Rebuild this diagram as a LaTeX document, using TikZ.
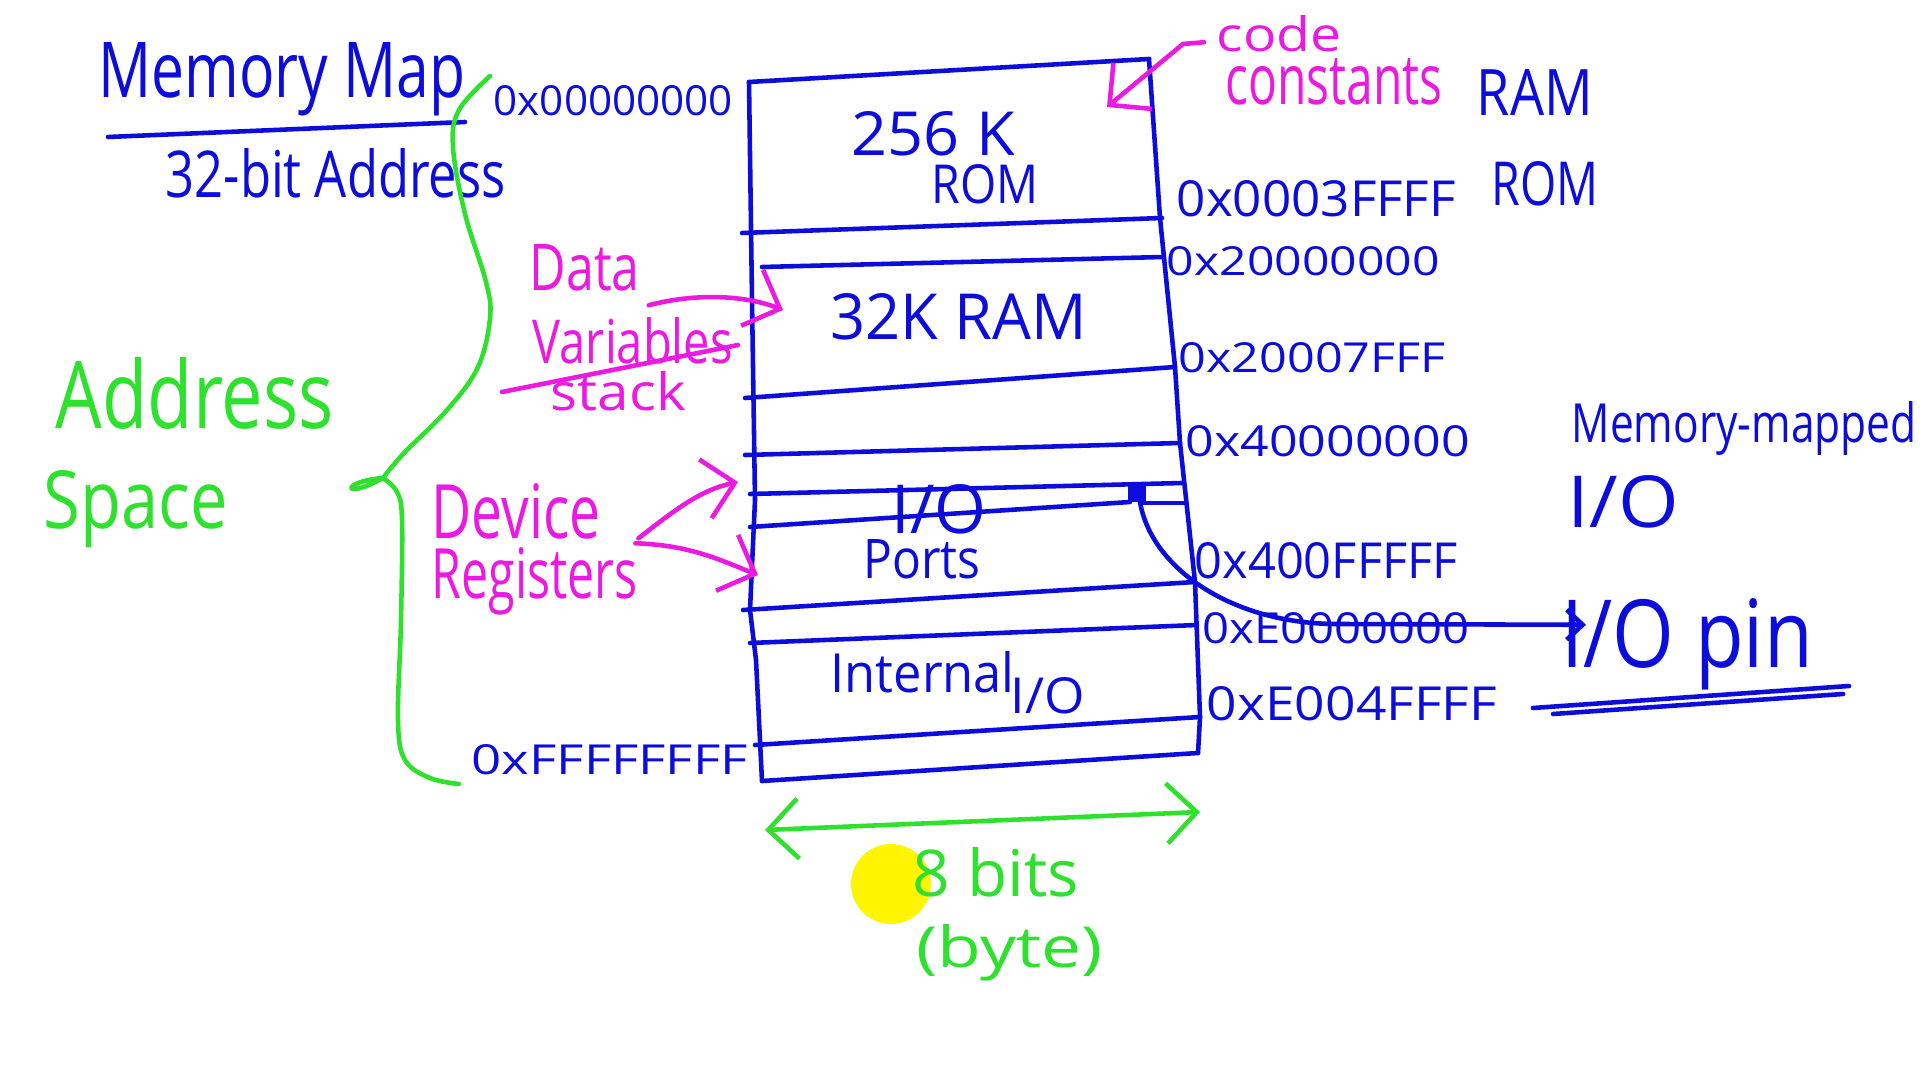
\documentclass[tikz,border=0pt]{standalone}
\usepackage{fontspec}
\setmainfont{Open Sans}
\usepackage{graphicx}
\usetikzlibrary{arrows.meta}
\definecolor{inkblue}{RGB}{12,12,220}
\definecolor{inkmag}{RGB}{235,25,225}
\definecolor{inkgreen}{RGB}{45,225,45}
\definecolor{hilite}{RGB}{255,245,0}
\newcommand\hw[3]{\resizebox{#1cm}{#2cm}{#3}}
\tikzset{
  ink/.style={line width=1.3pt, line cap=round, line join=round},
  bl/.style={ink, draw=inkblue},
  mg/.style={ink, draw=inkmag},
  gr/.style={ink, draw=inkgreen},
  txt/.style={inner sep=0pt, anchor=base west},
  tb/.style={txt, text=inkblue},
  tm/.style={txt, text=inkmag},
  tg/.style={txt, text=inkgreen},
  barb/.style={-{Straight Barb[length=3mm,width=6mm]}},
  smallbarb/.style={-{Straight Barb[length=1.6mm,width=3mm]}},
  dbarb/.style={{Straight Barb[length=3mm,width=6mm]}-{Straight Barb[length=3mm,width=6mm]}},
}
\begin{document}
\begin{tikzpicture}
\useasboundingbox[fill=white] (0,0) rectangle (19.2,-10.8);

% highlight dot (behind text)
\fill[hilite] (8.91,-8.84) circle (0.40);

% ---------- memory map box ----------
\draw[bl] (7.49,-0.82) -- (11.49,-0.59);
\draw[bl] (7.49,-0.82) -- (7.52,-3.0) -- (7.55,-5.0) -- (7.50,-6.1) -- (7.56,-6.6) -- (7.62,-7.81);
\draw[bl] (11.49,-0.59) -- (11.60,-2.18) -- (11.75,-3.67) -- (11.80,-4.43) -- (11.95,-5.82) -- (12.00,-7.17) -- (11.98,-7.53);
\draw[bl] (7.42,-2.33) -- (11.62,-2.18);
\draw[bl] (7.62,-2.67) -- (11.63,-2.57);
\draw[bl] (7.45,-3.98) -- (11.75,-3.67);
\draw[bl] (7.45,-4.55) -- (11.80,-4.43);
\draw[bl] (7.50,-4.94) -- (11.82,-4.83);
\draw[bl] (7.50,-5.27) -- (11.30,-5.02);
\draw[bl] (11.40,-5.03) -- (11.84,-5.03);
\draw[bl] (7.43,-6.10) -- (11.95,-5.82);
\draw[bl] (7.50,-6.43) -- (11.97,-6.25);
\draw[bl] (7.55,-7.45) -- (12.00,-7.17);
\draw[bl] (7.62,-7.81) -- (11.98,-7.53);
\fill[inkblue] (11.28,-4.86) rectangle (11.46,-5.02);

% ---------- texts (base west at left/baseline) ----------
\node[tb] (title) at (0.98,-0.98) {\hw{3.67}{0.55}{Memory Map}};
\draw[bl] (1.08,-1.37) -- (4.65,-1.22);
\node[tb] (addr32) at (1.65,-1.98) {\hw{3.40}{0.49}{32-bit Address}};
\node[tb] (h0) at (4.93,-1.16) {\hw{2.39}{0.30}{0x00000000}};
\node[tb] (rom256) at (8.51,-1.56) {\hw{1.63}{0.44}{256 K}};
\node[tb] (romin) at (9.31,-2.04) {\hw{1.07}{0.39}{ROM}};
\node[tm] (code) at (12.16,-0.52) {\hw{1.25}{0.36}{code}};
\node[tm] (const) at (12.25,-1.05) {\hw{2.17}{0.46}{constants}};
\node[tb] (ramR) at (14.76,-1.16) {\hw{1.16}{0.46}{RAM}};
\node[tb] (h3ffff) at (11.76,-2.17) {\hw{2.79}{0.36}{0x0003FFFF}};
\node[tb] (romR) at (14.91,-2.06) {\hw{1.07}{0.44}{ROM}};
\node[tm] (data) at (5.29,-2.91) {\hw{1.10}{0.46}{Data}};
\node[tm] (vars) at (5.32,-3.64) {\hw{2.00}{0.46}{Variables}};
\node[tm] (stack) at (5.50,-4.10) {\hw{1.35}{0.39}{stack}};
\draw[mg] (5.02,-3.92) -- (7.38,-3.45);
\node[tb] (ram32) at (8.30,-3.40) {\hw{2.56}{0.46}{32K RAM}};
\node[tb] (h2000) at (11.66,-2.76) {\hw{2.73}{0.29}{0x20000000}};
\node[tb] (h2fff) at (11.78,-3.73) {\hw{2.67}{0.30}{0x20007FFF}};
\node[tb] (h4000) at (11.85,-4.57) {\hw{2.84}{0.31}{0x40000000}};
\node[tb] (mmio) at (15.71,-4.43) {\hw{3.45}{0.41}{Memory-mapped}};
\node[tb] (ioR) at (15.67,-5.27) {\hw{1.11}{0.52}{I/O}};
\node[tb] (h400f) at (11.94,-5.78) {\hw{2.63}{0.36}{0x400FFFFF}};
\node[tb] (hE000) at (12.02,-6.43) {\hw{2.67}{0.31}{0xE0000000}};
\node[tb] (hE004) at (12.06,-7.20) {\hw{2.90}{0.34}{0xE004FFFF}};
\node[tb] (iopin) at (15.61,-6.67) {\hw{2.51}{0.69}{I/O pin}};
\draw[bl] (15.33,-7.08) -- (18.49,-6.86);
\draw[bl] (15.53,-7.14) -- (18.43,-6.94);
\node[tb] (ioIn) at (8.91,-5.33) {\hw{0.95}{0.49}{I/O}};
\node[tb] (ports) at (8.63,-5.78) {\hw{1.17}{0.39}{Ports}};
\node[tm] (device) at (4.31,-5.39) {\hw{1.69}{0.55}{Device}};
\node[tm] (regs) at (4.31,-5.98) {\hw{2.06}{0.51}{Registers}};
\node[tb] (internal) at (8.30,-6.92) {\hw{1.84}{0.41}{Internal}};
\node[tb] (ioInt) at (10.10,-7.13) {\hw{0.74}{0.36}{I/O}};
\node[tg] (address) at (0.55,-4.29) {\hw{2.78}{0.71}{Address}};
\node[tg] (space) at (0.43,-5.29) {\hw{1.84}{0.58}{Space}};
\node[tb] (hFFFF) at (4.71,-7.74) {\hw{2.76}{0.30}{0xFFFFFFFF}};
\node[tg] (bits) at (9.12,-8.96) {\hw{1.66}{0.49}{8 bits}};
\node[tg] (byte) at (9.16,-9.67) {\hw{1.86}{0.43}{(byte)}};

% ---------- connectors ----------
\coordinate (romtip) at (11.07,-1.07);
\coordinate (codehook) at (11.83,-0.44);
\draw[mg, barb] ([xshift=-0.12cm,yshift=-0.08cm]code.west) -- (codehook) -- (romtip);

\coordinate (ramtip) at (7.83,-3.10);
\draw[mg, barb] ([xshift=0.16cm,yshift=0.12cm]vars.north) .. controls (6.95,-2.93) and (7.45,-2.95) .. (ramtip);

\coordinate (regtip1) at (7.38,-4.82);
\coordinate (regtip2) at (7.58,-5.75);
\draw[mg, barb] ([yshift=0.08cm]regs.north east) .. controls (6.75,-5.1) and (7.0,-4.9) .. (regtip1);
\draw[mg, barb] ([xshift=-0.03cm,yshift=0.03cm]regs.north east) .. controls (6.9,-5.45) and (7.2,-5.6) .. (regtip2);

\coordinate (blob) at (11.39,-4.94);
\draw[bl, smallbarb] (blob) .. controls (11.45,-5.65) and (12.3,-6.25) .. (13.4,-6.24) -- ([shift={(0.25,0.19)}]iopin.west);

\coordinate (wl) at (7.65,-8.30);
\coordinate (wr) at (12.0,-8.12);
\draw[gr, dbarb] (wl) -- (wr);

% ---------- green brace ----------
\draw[gr] plot[smooth, tension=0.6] coordinates {(4.90,-0.76) (4.59,-1.10) (4.53,-1.47) (4.65,-2.14) (4.86,-2.82) (4.90,-3.18) (4.78,-3.67) (4.47,-4.10) (4.04,-4.53) (3.83,-4.78)};
\draw[gr] (3.83,-4.78) .. controls (3.55,-4.80) and (3.45,-4.90) .. (3.55,-4.89) .. controls (3.65,-4.88) and (3.75,-4.82) .. (3.83,-4.78);
\draw[gr] plot[smooth, tension=0.6] coordinates {(3.83,-4.78) (3.97,-4.92) (4.02,-5.20) (4.01,-6.20) (3.98,-7.20) (4.05,-7.60) (4.30,-7.78) (4.59,-7.84)};
\end{tikzpicture}
\end{document}
